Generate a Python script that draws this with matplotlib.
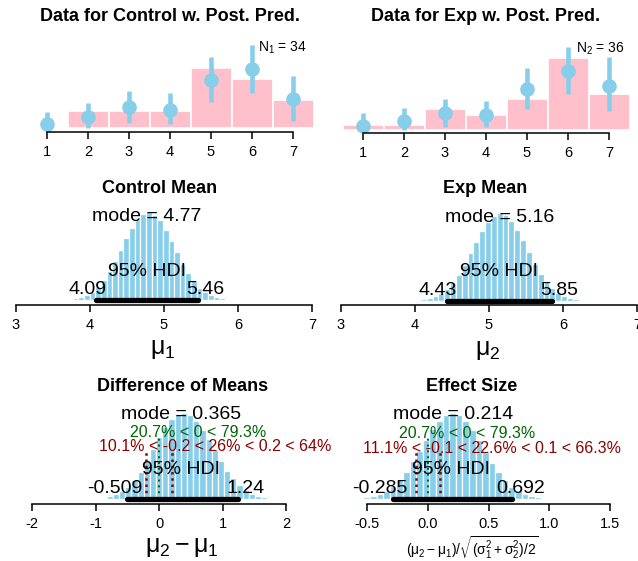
import numpy as np
import matplotlib
matplotlib.use("Agg")
import matplotlib.pyplot as plt

plt.rcParams['font.family'] = ['Liberation Sans', 'DejaVu Sans']
plt.rcParams['mathtext.fontset'] = 'custom'
plt.rcParams['mathtext.rm'] = 'Liberation Sans'
plt.rcParams['mathtext.it'] = 'Liberation Sans:italic'
plt.rcParams['mathtext.bf'] = 'Liberation Sans:bold'
plt.rcParams['mathtext.default'] = 'regular'
plt.rcParams['axes.unicode_minus'] = False

# --- data ---
resp_vals = [1, 2, 3, 4, 5, 6, 7]
ctrl_counts = [0, 3, 3, 3, 11, 9, 5]
exp_counts = [1, 1, 4, 3, 6, 14, 7]

# posterior predictive probabilities with 95% intervals
ctrl_pred = [0.019, 0.055, 0.109, 0.095, 0.257, 0.316, 0.152]
ctrl_pred_lo = [0.0, 0.0, 0.026, 0.019, 0.139, 0.185, 0.037]
ctrl_pred_hi = [0.085, 0.134, 0.197, 0.185, 0.383, 0.446, 0.278]
exp_pred = [0.023, 0.050, 0.090, 0.081, 0.222, 0.319, 0.240]
exp_pred_lo = [0.0, 0.0, 0.018, 0.018, 0.114, 0.193, 0.104]
exp_pred_hi = [0.090, 0.120, 0.168, 0.157, 0.333, 0.450, 0.393]

# posterior histograms: first break, bin width, densities
mu1_start, mu1_width = 3.77, 0.0761
mu1_dens = [0.02, 0.04, 0.07, 0.11, 0.17, 0.26, 0.37, 0.50, 0.65, 0.80, 0.93, 1.05, 1.11, 1.14,
            1.10, 1.03, 0.91, 0.77, 0.62, 0.47, 0.35, 0.24, 0.16, 0.10, 0.06, 0.035, 0.02]
mu1_mode, mu1_hdi = 4.77, [4.09, 5.46]

mu2_start, mu2_width = 4.08, 0.0789
mu2_dens = [0.02, 0.035, 0.06, 0.10, 0.15, 0.23, 0.33, 0.45, 0.60, 0.74, 0.87, 0.99, 1.06, 1.10,
            1.08, 1.00, 0.89, 0.76, 0.61, 0.46, 0.34, 0.24, 0.16, 0.10, 0.06, 0.035, 0.02]
mu2_mode, mu2_hdi = 5.16, [4.43, 5.85]

diff_start, diff_width = -0.92, 0.0972
diff_dens = [0.015, 0.03, 0.05, 0.08, 0.12, 0.19, 0.28, 0.39, 0.51, 0.63, 0.74, 0.82, 0.87, 0.88,
             0.86, 0.80, 0.71, 0.61, 0.50, 0.39, 0.29, 0.21, 0.14, 0.09, 0.055, 0.032, 0.018, 0.01]
diff_mode, diff_hdi = 0.365, [-0.509, 1.24]
diff_comp, diff_rope = 0, [-0.2, 0.2]

eff_start, eff_width = -0.53, 0.0543
eff_dens = [0.03, 0.055, 0.095, 0.155, 0.24, 0.36, 0.51, 0.70, 0.90, 1.10, 1.30, 1.46, 1.57, 1.60,
            1.56, 1.45, 1.28, 1.09, 0.87, 0.67, 0.50, 0.35, 0.23, 0.15, 0.09, 0.05, 0.03]
eff_mode, eff_hdi = 0.214, [-0.285, 0.692]
eff_comp, eff_rope = 0, [-0.1, 0.1]

W, H = 638, 561
fig = plt.figure(figsize=(W / 100, H / 100), dpi=100)


def px_axes(left, right, top, bottom):
    return fig.add_axes([left / W, 1 - bottom / H, (right - left) / W, (bottom - top) / H])


def map_x(ax, left, right, d0, p0, d1, p1):
    s = (p1 - p0) / (d1 - d0)
    ax.set_xlim(d0 + (left - p0) / s, d0 + (right - p0) / s)


def map_y(ax, top, bottom, base, s):
    ax.set_ylim(-(bottom - base) / s, (base - top) / s)


def style(ax, ticks, labels=None):
    for side in ['left', 'right', 'top']:
        ax.spines[side].set_visible(False)
    ax.spines['bottom'].set_bounds(ticks[0], ticks[-1])
    ax.spines['bottom'].set_linewidth(1.1)
    ax.set_yticks([])
    ax.set_xticks(ticks)
    if labels:
        ax.set_xticklabels(labels)
    ax.tick_params(axis='x', length=5, width=1.1, labelsize=10.5, pad=4.5)
    ax.patch.set_visible(False)


def label(px, py, s, size, **kw):
    # py is the visual middle of the capitals
    fig.text(px / W, 1 - (py + 0.358 * size * 100 / 72) / H, s, ha='center', va='baseline',
             size=size, **kw)


def data_panel(box, xmap, base, counts, pred, lo, hi):
    ax = px_axes(*box)
    props = np.array(counts) / sum(counts)
    ax.bar(resp_vals, props, width=1, color='pink', edgecolor='white', linewidth=1.2)
    ax.vlines(resp_vals, lo, hi, color='skyblue', lw=3.3, clip_on=False)
    ax.plot(resp_vals, pred, 'o', color='skyblue', ms=9.5, clip_on=False)
    map_x(ax, box[0], box[1], *xmap)
    map_y(ax, box[2], box[3], base, 185)
    style(ax, resp_vals)
    return ax


def post_panel(box, xmap, base, peak_px, start, width, dens, hdi, ticks, labels=None,
               comp=None, rope=None):
    ax = px_axes(*box)
    dens = np.array(dens)
    edges = start + width * np.arange(len(dens))
    ax.bar(edges, dens, width=width, align='edge', color='skyblue', edgecolor='white',
           linewidth=0.9)
    top = dens.max()
    if comp is not None:
        ax.plot([comp, comp], [0, 0.72 * top], color='darkgreen', lw=1.4, ls=(0, (1, 2)))
    if rope is not None:
        for r in rope:
            ax.plot([r, r], [0, 0.585 * top], color='darkred', lw=1.8, ls=(0, (1, 1.5)))
    ax.plot(hdi, [0, 0], color='black', lw=3.8, solid_capstyle='round')
    map_x(ax, box[0], box[1], *xmap)
    map_y(ax, box[2], box[3], base, (base - peak_px) / top)
    style(ax, ticks, labels)
    return ax


# --- top row: data with posterior predictive ---
data_panel((22, 318, 40, 132), (1, 47, 7, 293), 127.5, ctrl_counts, ctrl_pred,
           ctrl_pred_lo, ctrl_pred_hi)
data_panel((338, 634, 40, 133), (1, 363, 7, 609), 130, exp_counts, exp_pred,
           exp_pred_lo, exp_pred_hi)
label(169.5, 15, 'Data for Control w. Post. Pred.', 13, weight='bold')
label(486, 15, 'Data for Exp w. Post. Pred.', 13, weight='bold')
fig.text(307 / W, 1 - 48 / H, r'N$_1$ = ' + str(sum(ctrl_counts)), ha='right', va='center', size=10)
fig.text(625 / W, 1 - 49 / H, r'N$_2$ = ' + str(sum(exp_counts)), ha='right', va='center', size=10)

# --- middle row: group means ---
post_panel((5, 318, 200, 305), (3, 15.7, 7, 312), 300, 212, mu1_start, mu1_width, mu1_dens,
           mu1_hdi, [3, 4, 5, 6, 7])
post_panel((330, 638, 200, 305), (3, 341, 7, 637), 301, 213, mu2_start, mu2_width, mu2_dens,
           mu2_hdi, [3, 4, 5, 6, 7])
label(159.5, 187, 'Control Mean', 13, weight='bold')
label(485.5, 187, 'Exp Mean', 13, weight='bold')
label(146.5, 214, f'mode = {mu1_mode}', 14)
label(500, 215, f'mode = {mu2_mode}', 14)
label(147.5, 269, '95% HDI', 14)
label(499, 269, '95% HDI', 14)
label(87.5, 287, f'{mu1_hdi[0]}', 14)
label(205.5, 287, f'{mu1_hdi[1]}', 14)
label(438, 288, f'{mu2_hdi[0]}', 14)
label(559, 288, f'{mu2_hdi[1]}', 14)
fig.text(163 / W, 1 - 349 / H, r'$\mu_1$', ha='center', va='center', size=18)
fig.text(488 / W, 1 - 350 / H, r'$\mu_2$', ha='center', va='center', size=18)

# --- bottom row: difference and effect size ---
post_panel((20, 300, 400, 504), (-2, 32, 2, 286), 499, 413, diff_start, diff_width, diff_dens,
           diff_hdi, [-2, -1, 0, 1, 2], comp=diff_comp, rope=diff_rope)
post_panel((350, 625, 400, 504), (-0.5, 367, 1.5, 610), 499, 413, eff_start, eff_width,
           eff_dens, eff_hdi, [-0.5, 0, 0.5, 1.0, 1.5],
           labels=['-0.5', '0.0', '0.5', '1.0', '1.5'], comp=eff_comp, rope=eff_rope)
label(182.5, 385, 'Difference of Means', 13, weight='bold')
label(472, 385, 'Effect Size', 13, weight='bold')
label(181.5, 412, f'mode = {diff_mode}', 14)
label(453.5, 412, f'mode = {eff_mode}', 14)
label(198.5, 431, '20.7% < 0 < 79.3%', 11.5, color='darkgreen')
label(467.5, 432, '20.7% < 0 < 79.3%', 11.5, color='darkgreen')
label(215, 445, '10.1% < -0.2 < 26% < 0.2 < 64%', 11.5, color='darkred')
label(492, 447, '11.1% < -0.1 < 22.6% < 0.1 < 66.3%', 11.5, color='darkred')
label(181.5, 467, '95% HDI', 14)
label(451, 467, '95% HDI', 14)
label(114.5, 486, f'{diff_hdi[0]}', 14)
label(245.5, 486, f'{diff_hdi[1]}', 14)
label(379.5, 486, f'{eff_hdi[0]}', 14)
label(521, 486, f'{eff_hdi[1]}', 14)
fig.text(182 / W, 1 - 547 / H, r'$\mu_2 - \mu_1$', ha='center', va='center', size=18)
fig.text(472.5 / W, 1 - 548 / H, r'$(\mu_2 - \mu_1)/\sqrt{(\sigma_1^2 + \sigma_2^2)/2}$',
         ha='center', va='center', size=10)

fig.savefig('out.png', dpi=100)
